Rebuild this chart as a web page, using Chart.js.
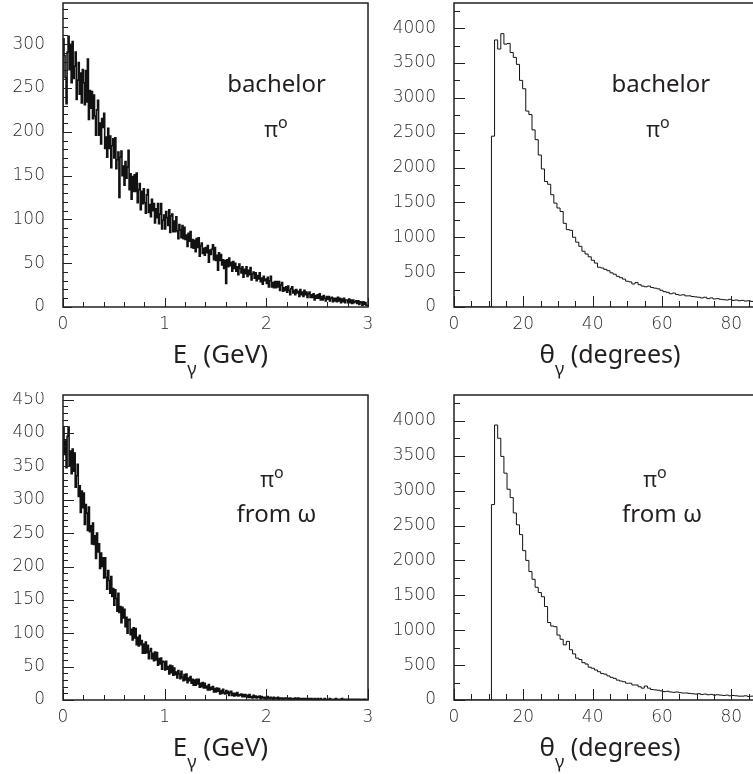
<!DOCTYPE html>
<html>
<head>
<meta charset="utf-8">
<script src="https://cdn.jsdelivr.net/npm/chart.js@4.4.1/dist/chart.umd.min.js"></script>
<style>
  html, body { margin: 0; padding: 0; background: #fff; }
  #page { position: relative; width: 753px; height: 774px; overflow: hidden; }
  #page canvas { position: absolute; }
</style>
</head>
<body>
<div id="page">
  <canvas id="eBach" width="380" height="392" style="left:0;top:0"></canvas>
  <canvas id="tBach" width="400" height="392" style="left:380px;top:0"></canvas>
  <canvas id="eOmega" width="380" height="382" style="left:0;top:392px"></canvas>
  <canvas id="tOmega" width="400" height="382" style="left:380px;top:392px"></canvas>
</div>
<script>
// bin widths of the four histograms
const energyBin = 0.01;   // GeV
const thetaBin = 0.9;     // degrees

// tick labels
const energyTicks = [0, 1, 2, 3];
const thetaTicks = [0, 20, 40, 60, 80];
const countTicksBach = [0, 50, 100, 150, 200, 250, 300];
const countTicksOmega = [0, 50, 100, 150, 200, 250, 300, 350, 400, 450];
const thetaCountTicks = [0, 500, 1000, 1500, 2000, 2500, 3000, 3500, 4000];

// E_gamma, bachelor pi0 (0 - 3 GeV, 300 bins)
const energyBachelor = [
  200, 306, 287, 262, 232, 291, 309, 271, 300, 256,
  303, 261, 275, 291, 237, 259, 279, 243, 267, 233,
  271, 256, 231, 270, 234, 283, 214, 247, 227, 246,
  215, 242, 218, 196, 225, 236, 196, 210, 186, 215,
  205, 221, 181, 194, 171, 204, 181, 195, 159, 184,
  192, 170, 193, 158, 168, 177, 125, 171, 178, 150,
  161, 139, 166, 147, 160, 179, 134, 152, 123, 149,
  132, 151, 132, 153, 119, 134, 141, 111, 132, 118,
  135, 119, 107, 128, 134, 108, 117, 103, 123, 110,
  118, 96, 112, 102, 118, 95, 106, 118, 89, 99,
  105, 89, 109, 102, 93, 111, 85, 104, 106, 86,
  98, 86, 103, 87, 78, 94, 88, 79, 93, 78,
  91, 77, 82, 69, 84, 75, 86, 68, 77, 67,
  76, 63, 78, 68, 79, 58, 70, 73, 61, 67,
  59, 68, 62, 70, 51, 65, 60, 66, 71, 54,
  68, 53, 59, 42, 62, 53, 60, 48, 54, 44,
  53, 27, 54, 46, 56, 47, 51, 41, 52, 44,
  50, 41, 46, 37, 49, 44, 39, 46, 34, 43,
  38, 46, 35, 42, 37, 45, 31, 38, 40, 33,
  39, 30, 36, 32, 39, 29, 33, 26, 35, 30,
  32, 27, 34, 23, 30, 35, 23, 28, 22, 29,
  22, 29, 23, 29, 19, 25, 28, 18, 22, 19,
  23, 17, 24, 19, 14, 21, 23, 16, 19, 14,
  20, 16, 18, 12, 20, 14, 17, 12, 19, 14,
  17, 11, 15, 17, 11, 14, 11, 15, 8, 13,
  10, 14, 10, 15, 8, 12, 8, 13, 10, 7,
  12, 9, 12, 7, 10, 11, 6, 10, 7, 10,
  6, 11, 7, 10, 5, 9, 6, 10, 5, 8,
  8, 5, 9, 5, 8, 4, 8, 5, 6, 7,
  4, 7, 3, 6, 5, 2, 6, 3, 5, 2
];

// E_gamma, pi0 from omega
const energyOmega = [
  190, 409, 368, 390, 348, 395, 409, 351, 373, 339,
  376, 343, 370, 319, 336, 353, 305, 321, 281, 313,
  288, 310, 263, 293, 280, 254, 289, 252, 261, 234,
  265, 233, 246, 212, 250, 222, 234, 197, 220, 200,
  213, 183, 213, 184, 166, 194, 179, 160, 185, 155,
  167, 142, 165, 152, 133, 160, 131, 140, 116, 139,
  123, 136, 110, 124, 100, 120, 121, 98, 106, 90,
  108, 93, 107, 83, 94, 81, 97, 83, 89, 70,
  84, 70, 87, 71, 82, 62, 73, 77, 62, 70,
  59, 72, 60, 71, 52, 62, 54, 63, 46, 58,
  57, 45, 58, 46, 50, 39, 52, 41, 51, 37,
  48, 38, 42, 33, 44, 39, 32, 43, 34, 29,
  38, 30, 39, 26, 33, 29, 35, 25, 31, 22,
  30, 22, 31, 24, 31, 19, 25, 20, 26, 18,
  25, 18, 21, 15, 23, 15, 19, 16, 20, 12,
  17, 12, 18, 13, 17, 9, 14, 10, 16, 11,
  9, 14, 10, 13, 7, 11, 13, 7, 10, 6,
  10, 7, 11, 6, 8, 7, 9, 5, 8, 5,
  8, 5, 7, 4, 8, 4, 5, 3, 7, 4,
  6, 3, 5, 4, 6, 2, 5, 3, 4, 2,
  4, 2, 5, 3, 2, 4, 3, 1, 4, 2,
  3, 2, 4, 1, 3, 2, 3, 1, 2, 3,
  2, 3, 1, 2, 3, 1, 2, 2, 1, 3,
  2, 1, 3, 1, 2, 2, 1, 2, 0, 2,
  1, 2, 1, 2, 0, 2, 1, 1, 2, 1,
  1, 2, 0, 1, 2, 1, 1, 0, 2, 1,
  1, 0, 1, 2, 1, 0, 1, 1, 0, 2,
  0, 1, 1, 0, 1, 2, 0, 1, 1, 0,
  1, 0, 1, 1, 0, 1, 0, 1, 0, 1,
  0, 1, 0, 1, 0, 0, 1, 0, 1, 0
];

// theta_gamma, bachelor pi0 (0 - 90 deg, 100 bins)
const thetaBachelor = [
  0, 0, 0, 0, 0, 0, 0, 0, 0, 0, 0, 0, 0,
  2450, 3830, 3700, 3920, 3770, 3780, 3650, 3580, 3480, 3250,
  3130, 2810, 2760, 2540, 2400, 2180, 1980, 1800, 1760, 1610,
  1490, 1420, 1370, 1200, 1110, 1100, 1000, 930, 870, 800,
  760, 720, 670, 630, 570, 560, 540, 520, 490, 470,
  440, 420, 400, 370, 360, 330, 350, 320, 300, 290,
  300, 280, 270, 260, 240, 220, 210, 190, 200, 180,
  170, 175, 160, 160, 150, 145, 140, 130, 140, 120,
  130, 115, 120, 110, 105, 100, 110, 95, 100, 90,
  95, 85, 90, 80, 85, 80, 75
];

// theta_gamma, pi0 from omega
const thetaOmega = [
  0, 0, 0, 0, 0, 0, 0, 0, 0, 0, 0, 0, 0,
  2800, 3940, 3750, 3490, 3250, 3020, 2900, 2680, 2510, 2370,
  2140, 2000, 1840, 1730, 1615, 1540, 1480, 1340, 1110, 1060,
  1050, 930, 870, 790, 840, 720, 660, 600, 580, 535,
  515, 470, 455, 430, 405, 380, 370, 345, 325, 310,
  285, 272, 262, 240, 240, 215, 215, 190, 170, 200,
  170, 150, 145, 140, 130, 120, 125, 115, 110, 115,
  105, 100, 100, 95, 90, 85, 90, 80, 85, 75,
  80, 70, 75, 70, 65, 70, 60, 65, 60, 55,
  55, 60, 50, 55, 50, 45, 50
];

const tickFont = { family: "'DejaVu Sans'", size: 17, weight: 200 };
const textFont = "'Noto Sans', 'Open Sans', sans-serif";
const ink = '#231f20';

// histogram bins -> step points (left edges + closing edge)
const toSteps = (values, width) => {
  const pts = values.map((v, i) => ({ x: i * width, y: v }));
  pts.push({ x: values.length * width, y: values[values.length - 1] });
  return pts;
};

// writes a run of text pieces (sub/superscripts) centred on cx
const drawRich = (ctx, parts, cx, baseY) => {
  let total = 0;
  parts.forEach(p => {
    ctx.font = `${p.size}px ${textFont}`;
    p.w = ctx.measureText(p.t).width;
    total += p.w;
  });
  let x = cx - total / 2;
  parts.forEach(p => {
    ctx.font = `${p.size}px ${textFont}`;
    ctx.fillText(p.t, x, baseY + (p.dy || 0));
    x += p.w;
  });
};

// frame with inward ticks, ROOT style
const framePlugin = {
  id: 'frame',
  afterDatasetsDraw(chart, args, o) {
    const { ctx, chartArea: a, scales: { x, y } } = chart;
    ctx.save();
    ctx.strokeStyle = ink;
    ctx.lineWidth = 1;
    ctx.beginPath();
    const nx = Math.round((x.max - x.min) / o.xMinor);
    for (let i = 0; i <= nx; i++) {
      const px = Math.round(x.getPixelForValue(x.min + i * o.xMinor)) + 0.5;
      const len = i % o.xEvery === 0 ? o.major : o.minor;
      ctx.moveTo(px, a.bottom);
      ctx.lineTo(px, a.bottom - len);
    }
    const ny = Math.floor((y.max - y.min) / o.yMinor + 1e-6);
    for (let i = 0; i <= ny; i++) {
      const py = Math.round(y.getPixelForValue(y.min + i * o.yMinor)) + 0.5;
      const len = i % o.yEvery === 0 ? o.major : o.minor;
      ctx.moveTo(a.left, py);
      ctx.lineTo(a.left + len, py);
    }
    ctx.stroke();
    ctx.lineWidth = 1.5;
    ctx.strokeRect(a.left, a.top, a.right - a.left, a.bottom - a.top);
    ctx.restore();
  }
};

// in-plot labels and the x axis title
const notesPlugin = {
  id: 'notes',
  afterDraw(chart, args, o) {
    const { ctx, chartArea: a } = chart;
    const w = a.right - a.left, h = a.bottom - a.top;
    ctx.save();
    ctx.fillStyle = ink;
    ctx.textBaseline = 'alphabetic';
    o.items.forEach(it => drawRich(ctx, it.parts, a.left + it.fx * w, a.top + it.fy * h));
    drawRich(ctx, o.title, a.left + w / 2 + (o.titleDx || 0), a.bottom + 56);
    ctx.restore();
  }
};

const piZero = [{ t: 'π', size: 21 }, { t: 'o', size: 16, dy: -9 }];
const eTitle = [{ t: 'E', size: 26 }, { t: 'γ', size: 18, dy: 12 }, { t: ' (GeV)', size: 26 }];
const tTitle = [{ t: 'θ', size: 26 }, { t: 'γ', size: 18, dy: 12 }, { t: ' (degrees)', size: 25 }];

const makeHist = (id, cfg) => new Chart(document.getElementById(id), {
  type: 'line',
  data: {
    datasets: [{
      data: toSteps(cfg.values, cfg.binWidth),
      stepped: 'after',
      borderColor: '#111',
      borderWidth: cfg.lineWidth,
      pointRadius: 0,
      fill: false
    }]
  },
  options: {
    responsive: false,
    animation: false,
    devicePixelRatio: 1,
    layout: { padding: { top: 3, right: cfg.padRight, left: 0, bottom: 0 } },
    plugins: {
      legend: { display: false },
      tooltip: { enabled: false },
      frame: cfg.frame,
      notes: { items: cfg.notes, title: cfg.title, titleDx: cfg.titleDx }
    },
    scales: {
      x: {
        type: 'linear', min: 0, max: cfg.xMax,
        grid: { display: false, drawTicks: false },
        border: { display: false },
        ticks: { maxRotation: 0, padding: 7, font: tickFont, color: '#2a2a2a', callback: v => String(v) },
        afterBuildTicks: s => { s.ticks = cfg.xTicks.map(v => ({ value: v })); },
        afterFit: s => {
          s.height = cfg.xHeight;
          s.paddingLeft = 0;
          s.paddingRight = 0;
        }
      },
      y: {
        type: 'linear', min: 0, max: cfg.yMax,
        grid: { display: false, drawTicks: false },
        border: { display: false },
        ticks: { padding: 18, font: tickFont, color: '#2a2a2a', callback: v => String(v) },
        afterBuildTicks: s => { s.ticks = cfg.yTicks.map(v => ({ value: v })); },
        afterFit: s => {
          s.width = cfg.yWidth;
          s.paddingTop = 0;
          s.paddingBottom = 0;
        }
      }
    }
  },
  plugins: [framePlugin, notesPlugin]
});

makeHist('eBach', {
  values: energyBachelor, binWidth: energyBin, lineWidth: 1.6,
  xMax: 3, xTicks: energyTicks, yMax: 347, yTicks: countTicksBach,
  yWidth: 63, xHeight: 85, padRight: 12,
  frame: { xMinor: 0.2, xEvery: 5, yMinor: 10, yEvery: 5, major: 9, minor: 5 },
  notes: [
    { parts: [{ t: 'bachelor', size: 24 }], fx: 0.70, fy: 0.293 },
    { parts: piZero, fx: 0.698, fy: 0.441 }
  ],
  title: eTitle, titleDx: 5
});

makeHist('tBach', {
  values: thetaBachelor, binWidth: thetaBin, lineWidth: 1,
  xMax: 90, xTicks: thetaTicks, yMax: 4360, yTicks: thetaCountTicks,
  yWidth: 74, xHeight: 85, padRight: 14,
  frame: { xMinor: 5, xEvery: 4, yMinor: 250, yEvery: 2, major: 11, minor: 6 },
  notes: [
    { parts: [{ t: 'bachelor', size: 24 }], fx: 0.663, fy: 0.293 },
    { parts: piZero, fx: 0.654, fy: 0.441 }
  ],
  title: tTitle
});

makeHist('eOmega', {
  values: energyOmega, binWidth: energyBin, lineWidth: 1.6,
  xMax: 3, xTicks: energyTicks, yMax: 457, yTicks: countTicksOmega,
  yWidth: 63, xHeight: 74, padRight: 12,
  frame: { xMinor: 0.2, xEvery: 5, yMinor: 10, yEvery: 5, major: 11, minor: 5 },
  notes: [
    { parts: piZero, fx: 0.685, fy: 0.303 },
    { parts: [{ t: 'from ω', size: 24 }], fx: 0.70, fy: 0.418 }
  ],
  title: eTitle, titleDx: 5
});

makeHist('tOmega', {
  values: thetaOmega, binWidth: thetaBin, lineWidth: 1,
  xMax: 90, xTicks: thetaTicks, yMax: 4370, yTicks: thetaCountTicks,
  yWidth: 74, xHeight: 74, padRight: 14,
  frame: { xMinor: 5, xEvery: 4, yMinor: 250, yEvery: 2, major: 11, minor: 6 },
  notes: [
    { parts: piZero, fx: 0.644, fy: 0.303 },
    { parts: [{ t: 'from ω', size: 24 }], fx: 0.667, fy: 0.418 }
  ],
  title: tTitle
});
</script>
</body>
</html>
